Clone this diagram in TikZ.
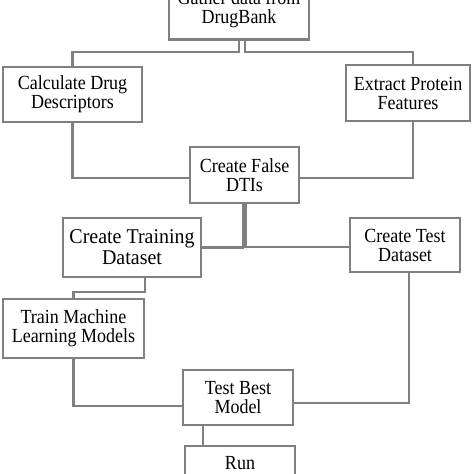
\documentclass[tikz,border=0pt]{standalone}
\usepackage{fontspec}
\setmainfont[FakeStretch=0.9]{Liberation Serif}
\newfontfamily\bigfont[FakeStretch=0.95]{Liberation Serif}
\usetikzlibrary{backgrounds}
\definecolor{linegray}{RGB}{128,128,128}
\tikzset{
  box/.style={draw=linegray, line width=2.4pt, fill=white, inner sep=0pt, align=center,
    font=\fontsize{20}{19}\selectfont, text=black},
  conn/.style={draw=linegray, line width=2.2pt}
}
\begin{document}
\begin{tikzpicture}[x=1pt,y=-1pt]
\useasboundingbox (0,0) rectangle (474,474);
\clip (0,0) rectangle (474,474);
\coordinate (j1) at (239,52);
\coordinate (j2) at (245,52);
\coordinate (k1) at (145,292);
\node[box, minimum width=140, minimum height=61] (gather) at (239,9) {Gather data from\\DrugBank};
\node[box, minimum width=139, minimum height=55] (calc) at (72.5,94.5) {Calculate Drug\\Descriptors};
\node[box, minimum width=124, minimum height=56] (extract) at (408,93) {Extract Protein\\Features};
\node[box, minimum width=109, minimum height=56] (false) at (244.5,175) {Create False\\DTIs};
\node[box, minimum width=138, minimum height=59, font=\bigfont\fontsize{21}{21}\selectfont] (trainds) at (132,247.5) {Create Training\\Dataset};
\node[box, minimum width=110, minimum height=54] (testds) at (405,245) {Create Test\\Dataset};
\node[box, minimum width=141, minimum height=59] (trainml) at (73.5,328.5) {Train Machine\\Learning Models};
\node[box, minimum width=110, minimum height=55] (testbest) at (238,397.5) {Test Best\\Model};
\node[box, minimum width=110, minimum height=56] (run) at (240,474) {};
\node[font=\fontsize{20}{19}\selectfont, anchor=base, inner sep=0pt] (runlabel) at (240,469) {Run};
\begin{scope}[on background layer]
\fill[white] (0,0) rectangle (474,474);
\draw[conn] (gather.south -| j1) -- (j1) -| (calc.north);
\draw[conn] (gather.south -| j2) -- (j2) -| ([xshift=5pt]extract.north);
\draw[conn] (calc.south) |- ([yshift=-3pt]false.west);
\draw[conn] ([xshift=5pt]extract.south) |- ([yshift=-3pt]false.east);
\draw[conn] ([xshift=-1.5pt]false.south) |- (trainds.east);
\draw[conn] ([xshift=1pt]false.south) |- ([yshift=-2pt]testds.east);
\draw[conn] (trainds.south -| k1) -- (k1) -| (trainml.north);
\draw[conn] (trainml.south) |- ([yshift=-8.5pt]testbest.west);
\draw[conn] ([xshift=4pt]testds.south) |- ([yshift=-5.5pt]testbest.east);
\draw[conn] ([xshift=-35pt]testbest.south) -- ([xshift=-37pt]run.north);
\end{scope}
\end{tikzpicture}
\end{document}
